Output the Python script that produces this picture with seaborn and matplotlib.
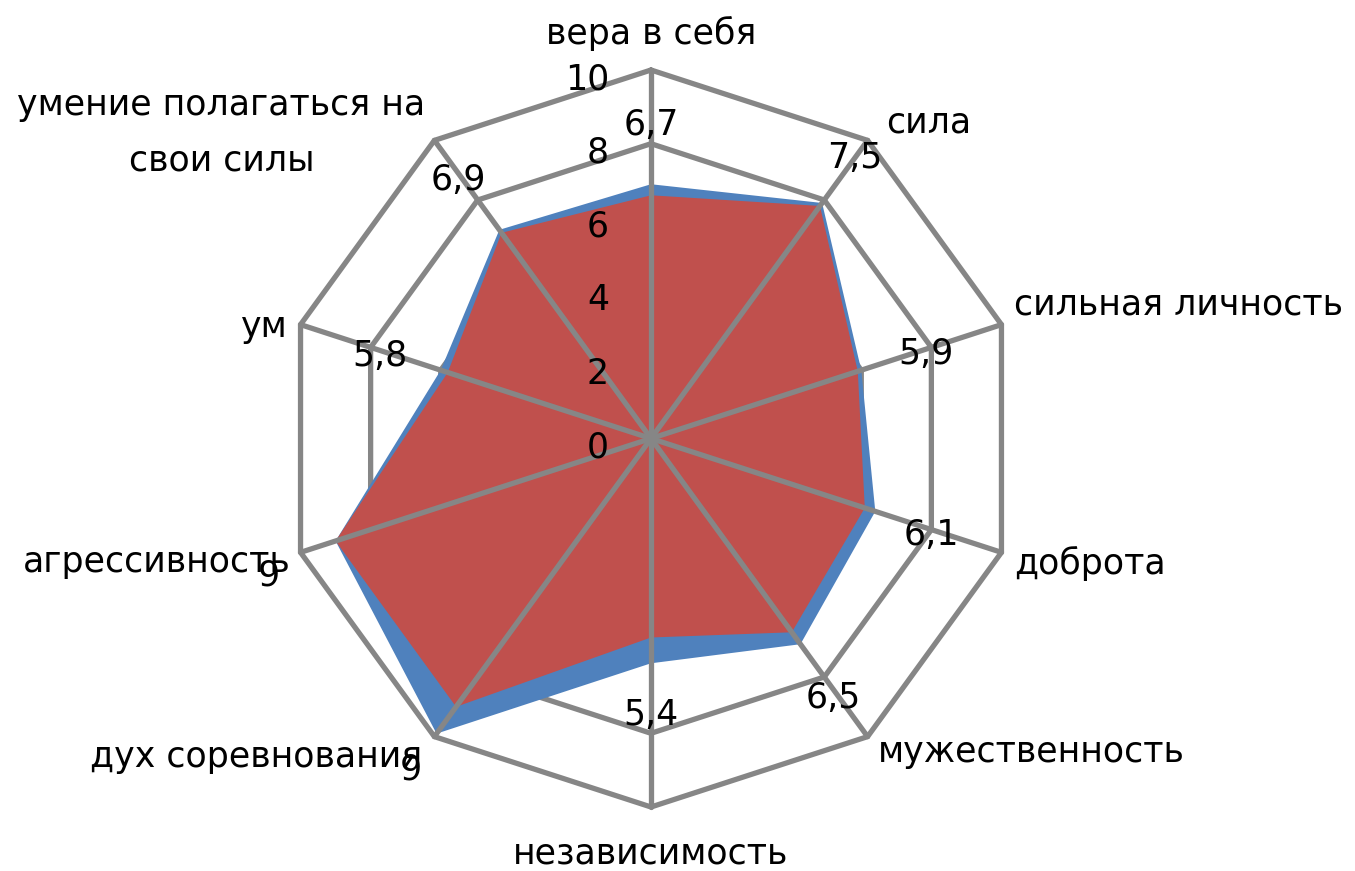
import numpy as np
import matplotlib
matplotlib.use("Agg")
import matplotlib.pyplot as plt
import seaborn as sns

# ---- data ----
categories = ["вера в себя", "сила", "сильная личность", "доброта", "мужественность",
              "независимость", "дух соревнования", "агрессивность", "ум",
              "умение полагаться на\nсвои силы"]
series_blue = [6.9, 7.9, 6.0, 6.4, 6.9, 6.1, 9.9, 9.0, 6.0, 7.0]
series_red = [6.6, 7.8, 5.9, 6.1, 6.5, 5.4, 9.0, 9.0, 5.8, 6.9]
value_labels = ["6,7", "7,5", "5,9", "6,1", "6,5", "5,4", "9", "9", "5,8", "6,9"]
ring_ticks = [0, 2, 4, 6, 8, 10]

# ---- label placement (layout, not data) ----
label_r = [8.5, 9.4, 7.8, 8.05, 8.6, 7.5, 11.1, 11.0, 7.7, 8.75]
label_dtheta = [0, 0, 0.9, 0.9, 0.9, 0, 0, -1.7, -1.0, -0.6]
# pixel offsets from outer vertex (dx, dy baseline), alignment
cat_pos = [(0, 26, "center"), (19, 8, "left"), (13, 10, "left"), (13, -22, "left"),
           (10, -25, "left"), (0, -56, "center"), (-12, -30, "right"),
           (-10, -20, "right"), (-13, -12, "right"), (-213, 25, "center")]

sns.set_theme(style="white")
FONT = ["DejaVu Sans"]
plt.rcParams["font.family"] = FONT

GRID = "#868686"
BLUE = "#4F81BD"
RED = "#C0504D"
FS = 25

fig = plt.figure(figsize=(13.55, 8.71), dpi=100)
W, H = 1355, 871
cx, cy, R = 651, 438.5, 368.5
ax = fig.add_axes([(cx - R) / W, (H - cy - R) / H, 2 * R / W, 2 * R / H], projection="polar")
ax.set_theta_zero_location("N")
ax.set_theta_direction(-1)
ax.set_ylim(0, 10)
ax.grid(False)
ax.set_xticks([])
ax.set_yticks([])
ax.spines["polar"].set_visible(False)
ax.patch.set_alpha(0)

n = len(categories)
theta = np.deg2rad(np.arange(n) * 360.0 / n)
theta_c = np.append(theta, theta[0])

# rings
for r in ring_ticks[1:]:
    ax.plot(theta_c, [r] * (n + 1), color=GRID, lw=3.8, zorder=1, clip_on=False,
            solid_joinstyle="miter")

# series
ax.fill(theta_c, series_blue + series_blue[:1], color=BLUE, lw=0, zorder=2)
ax.fill(theta_c, series_red + series_red[:1], color=RED, lw=0, zorder=3)

# spokes
for t in theta:
    ax.plot([t, t], [0, 10], color=GRID, lw=3.8, zorder=4, clip_on=False)

# radial tick labels
for r in ring_ticks:
    ax.annotate(str(r), xy=(0, r), xytext=(-42, -9), textcoords="offset pixels",
                ha="right", va="center", fontsize=FS, color="black",
                annotation_clip=False, zorder=6)

# value labels
for lab, t, dt, rr in zip(value_labels, theta, label_dtheta, label_r):
    ax.annotate(lab, xy=(t + np.deg2rad(dt), rr), ha="center", va="center",
                fontsize=FS, color="black", annotation_clip=False, zorder=6)

# category labels
for cat, t, (dx, dy, ha) in zip(categories, theta, cat_pos):
    lines = cat.split("\n")
    for k, line in enumerate(lines):
        ax.annotate(line, xy=(t, 10), xytext=(dx, dy - 55 * k), textcoords="offset pixels",
                    ha=ha, va="baseline", fontsize=FS, color="black",
                    annotation_clip=False, zorder=6)

fig.savefig("out.png", dpi=100, facecolor="white")
